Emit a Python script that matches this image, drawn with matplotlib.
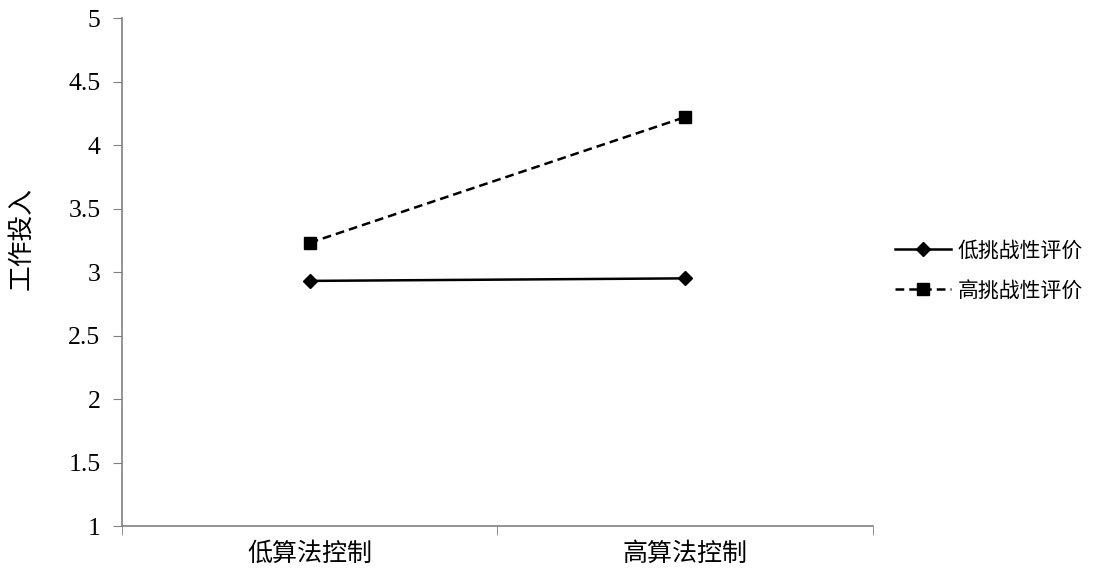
import matplotlib.pyplot as plt

plt.rcParams['font.family'] = ['Liberation Serif', 'Noto Sans CJK SC']

categories = ['低算法控制', '高算法控制']
low_challenge = [2.93, 2.95]
high_challenge = [3.23, 4.22]
series_names = ['低挑战性评价', '高挑战性评价']

fig = plt.figure(figsize=(10.94, 5.72), dpi=100)
ax = fig.add_axes([0.1115, 0.0804, 0.6865, 0.8881])

x = range(len(categories))
ax.plot(x, low_challenge, color='black', linestyle='-', linewidth=1.8,
        marker='D', markersize=7, label=series_names[0])
ax.plot(x, high_challenge, color='black', linestyle=(0, (3.5, 2)), linewidth=1.8,
        marker='s', markersize=8, label=series_names[1])

ax.set_xlim(-0.5, 1.5)
ax.set_ylim(1, 5)
ax.set_yticks([1, 1.5, 2, 2.5, 3, 3.5, 4, 4.5, 5])
ax.set_yticklabels(['1', '1.5', '2', '2.5', '3', '3.5', '4', '4.5', '5'], fontsize=18.5)

# category labels sit between the boundary ticks
ax.set_xticks([0, 1])
ax.set_xticklabels(categories, fontsize=18, family=['Noto Sans CJK SC'])
ax.tick_params(axis='x', length=0, pad=11)
ax.set_xticks([-0.5, 0.5, 1.5], minor=True)
ax.tick_params(axis='x', which='minor', length=6.5, direction='out', color='#808080')
ax.tick_params(axis='y', length=6.5, direction='out', color='#808080', pad=9)

for side in ['top', 'right']:
    ax.spines[side].set_visible(False)
for side in ['left', 'bottom']:
    ax.spines[side].set_color('#808080')
    ax.spines[side].set_linewidth(1.2)

ax.set_ylabel('工作投入', fontsize=18.5, family=['Noto Sans CJK SC'])
ax.yaxis.set_label_coords(-0.117, 0.565)

ax.legend(loc='center left', bbox_to_anchor=(0.801, 0.527), bbox_transform=fig.transFigure,
          frameon=False, prop={'family': 'Noto Sans CJK SC', 'size': 15},
          handlelength=2.7, handletextpad=0.3, labelspacing=0.85)

fig.savefig('out.png', dpi=100)
